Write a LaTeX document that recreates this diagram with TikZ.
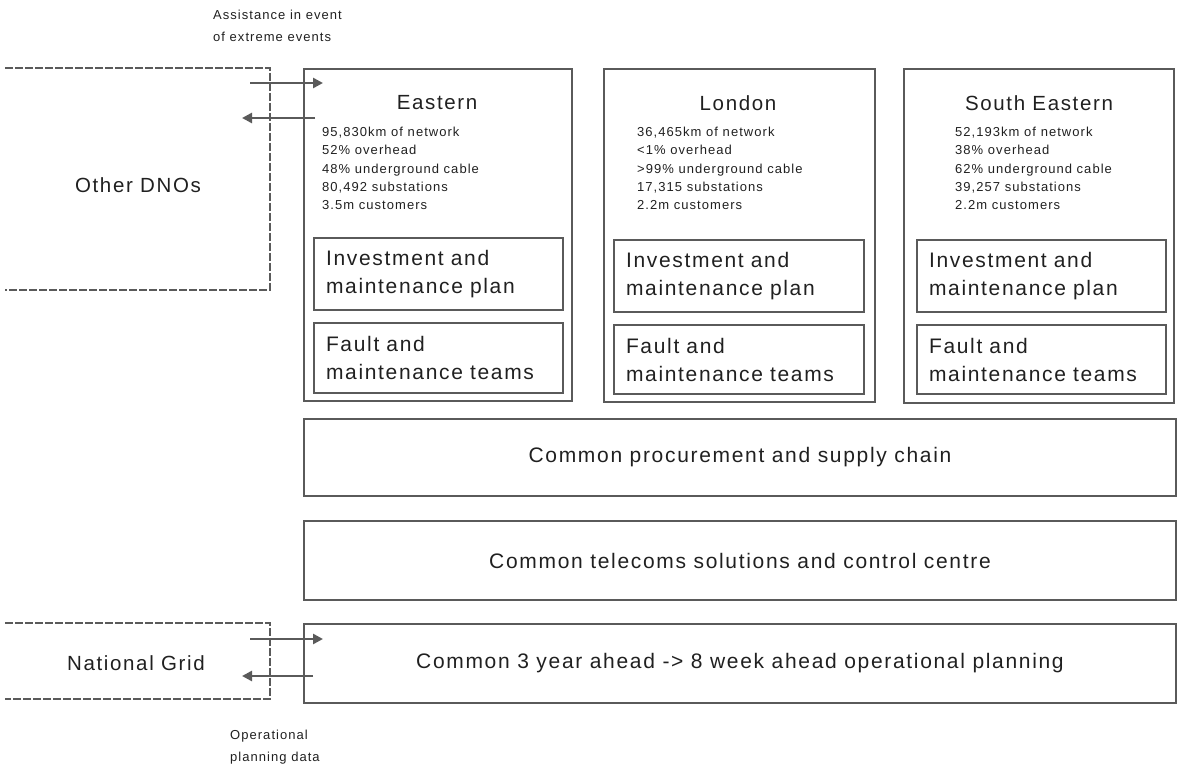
\documentclass[tikz,border=0pt]{standalone}
\usepackage{fontspec}
\setmainfont{Liberation Sans}
\newfontfamily\spaced[LetterSpace=8]{Liberation Sans}
\usetikzlibrary{arrows.meta}
\definecolor{linec}{HTML}{5A5A5A}
\definecolor{txt}{HTML}{202020}
\tikzset{
  box/.style={draw=linec, line width=2pt, inner sep=0pt, anchor=north west, text=txt},
  innerbox/.style={box, align=left, font=\spaced\fontsize{21}{28}\selectfont},
  commonbox/.style={box, minimum width=872pt, font=\spaced\fontsize{21}{24}\selectfont},
  title/.style={text=txt, inner sep=0pt, font=\spaced\fontsize{20.5}{26}\selectfont},
  stats/.style={text=txt, inner sep=0pt, anchor=north west, align=left, font=\spaced\fontsize{13}{18.2}\selectfont},
  label/.style={text=txt, inner sep=0pt, font=\spaced\fontsize{20.5}{26}\selectfont},
  small/.style={text=txt, inner sep=0pt, anchor=north west, align=left, font=\spaced\fontsize{13}{22}\selectfont},
  dline/.style={draw=linec, line width=2.2pt, dash pattern=on 8pt off 2pt},
  arr/.style={draw=linec, line width=2.6pt, -{Triangle[length=10pt,width=10pt]}}
}
\begin{document}
\begin{tikzpicture}[x=1pt,y=-1pt]
\useasboundingbox (0,0) rectangle (1178,767);
% outer boxes
\node[box, minimum width=268pt, minimum height=332pt] (east) at (303,68) {};
\node[box, minimum width=271pt, minimum height=333pt] (lond) at (603,68) {};
\node[box, minimum width=270pt, minimum height=334pt] (seast) at (903,68) {};
% titles
\node[title] (eastT) at (437,103) {Eastern};
\node[title] (londT) at (738,103) {London};
\node[title] (seastT) at (1039,103) {South Eastern};
% stats
\node[stats] (eastS) at (322,127) {95,830km of network\\52\% overhead\\48\% underground cable\\80,492 substations\\3.5m customers};
\node[stats] (londS) at (637,127) {36,465km of network\\<1\% overhead\\>99\% underground cable\\17,315 substations\\2.2m customers};
\node[stats] (seastS) at (955,127) {52,193km of network\\38\% overhead\\62\% underground cable\\39,257 substations\\2.2m customers};
% inner boxes
\node[innerbox, minimum width=249pt, minimum height=72pt, text width=225pt] (eastI) at (313,237) {Investment and\\maintenance plan};
\node[innerbox, minimum width=249pt, minimum height=70pt, text width=225pt] (eastF) at (313,322) {Fault and\\maintenance teams};
\node[innerbox, minimum width=250pt, minimum height=72pt, text width=226pt] (londI) at (613,239) {Investment and\\maintenance plan};
\node[innerbox, minimum width=250pt, minimum height=69pt, text width=226pt] (londF) at (613,324) {Fault and\\maintenance teams};
\node[innerbox, minimum width=249pt, minimum height=72pt, text width=225pt] (seastI) at (916,239) {Investment and\\maintenance plan};
\node[innerbox, minimum width=249pt, minimum height=69pt, text width=225pt] (seastF) at (916,324) {Fault and\\maintenance teams};
% common boxes
\node[commonbox, minimum height=77pt] (proc) at (303,418) {Common procurement and supply chain};
\node[commonbox, minimum height=79pt] (tele) at (303,520) {Common telecoms solutions and control centre};
\node[commonbox, minimum height=79pt] (oper) at (303,623) {Common 3 year ahead -> 8 week ahead operational planning};
% left dashed regions
\draw[dline] (5,68) -- (270,68) -- (270,290) -- (5,290);
\draw[dline] (5,623) -- (270,623) -- (270,699) -- (5,699);
\node[label] (dnos) at (138,185) {Other DNOs};
\node[label] (ng) at (136,663) {National Grid};
% arrows
\coordinate (a1s) at (250,83); \coordinate (a1e) at (323,83);
\coordinate (a2s) at (315,118); \coordinate (a2e) at (242,118);
\coordinate (b1s) at (250,639); \coordinate (b1e) at (323,639);
\coordinate (b2s) at (313,676); \coordinate (b2e) at (242,676);
\draw[arr] (a1s) -- (a1e);
\draw[arr] (a2s) -- (a2e);
\draw[arr] (b1s) -- (b1e);
\draw[arr] (b2s) -- (b2e);
% captions
\node[small] (assist) at (213,10) {Assistance in event\\of extreme events};
\node[small] (opdata) at (230,730) {Operational\\planning data};
\end{tikzpicture}
\end{document}
